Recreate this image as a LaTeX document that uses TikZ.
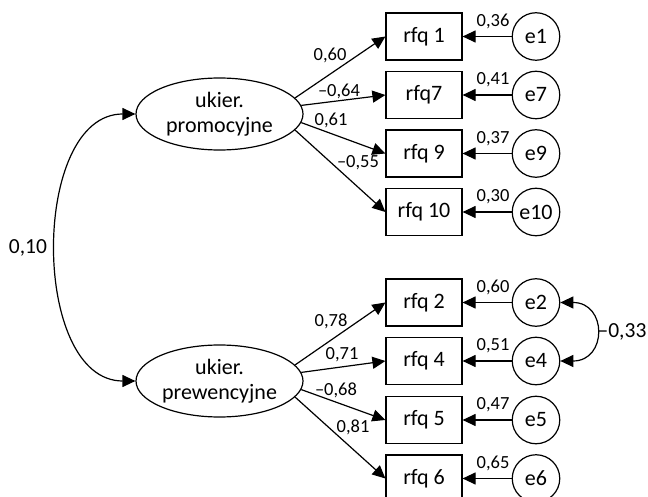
\documentclass[tikz,border=0pt]{standalone}
\usepackage{fontspec}
\setmainfont{Carlito}
\usetikzlibrary{arrows.meta,shapes.geometric}

\begin{document}
\begin{tikzpicture}[x=1pt,y=-1pt]
        \tikzset{latent/.style = {shape=ellipse,draw,line width=1.2pt,minimum width=167pt,minimum height=72pt,inner sep=0pt,align=center,font=\fontsize{22}{25}\selectfont}}
        \tikzset{item/.style = {shape=rectangle,draw,line width=1.2pt,minimum width=76pt,minimum height=47pt,font=\fontsize{22}{25}\selectfont}}
        \tikzset{err/.style = {shape=circle,draw,line width=1.2pt,minimum size=47.5pt,inner sep=0pt,font=\fontsize{22}{25}\selectfont}}
        \tikzset{edge/.style = {-{Triangle[length=13pt,width=12pt]},line width=1.2pt}}
        \tikzset{cov/.style = {{Triangle[length=13pt,width=12pt]}-{Triangle[length=13pt,width=12pt]},line width=1.2pt}}
        \tikzset{lab/.style = {inner sep=0pt,font=\fontsize{18.5}{20}\selectfont}}
        \tikzset{covlab/.style = {inner sep=0pt,font=\fontsize{21.5}{25}\selectfont}}

        \useasboundingbox (0,0) rectangle (648,497);

        % latent variables
        \node[latent] (pro) at (219.5,114) {ukier.\\promocyjne};
        \node[latent] (pre) at (219.5,381) {ukier.\\prewencyjne};

        % indicators and errors
        \foreach \n/\t/\y/\v in {1/{rfq 1}/36.5/{0,36}, 7/rfq7/95/{0,41}, 9/{rfq 9}/153.5/{0,37}, 10/{rfq 10}/212/{0,30},
                                 2/{rfq 2}/302.5/{0,60}, 4/{rfq 4}/361/{0,51}, 5/{rfq 5}/420/{0,47}, 6/{rfq 6}/478.5/{0,65}}
        {
            \node[item] (r\n) at (424,\y) {\t};
            \node[err] (e\n) at (536,\y) {e\n};
            \draw[edge] (e\n) -- (r\n);
            \node[lab] (v\n) at (493,\y-15) {\v};
        }

        % loadings
        \foreach \n/\a/\x/\y/\v in {1/12/330/55/{0,60}, 7/6/339/91/{–0,64}, 9/-6/331/120/{0,61}, 10/-12/358/163/{–0,55}}
        {
            \draw[edge] (pro.\a) -- (r\n.west);
            \node[lab] (l\n) at (\x,\y) {\v};
        }
        \foreach \n/\a/\x/\y/\v in {2/12/331/321/{0,78}, 4/6/342/355/{0,71}, 5/-6/336/390/{–0,68}, 6/-12/353/427/{0,81}}
        {
            \draw[edge] (pre.\a) -- (r\n.west);
            \node[lab] (l\n) at (\x,\y) {\v};
        }

        % covariances
        \draw[cov] (pro.west) .. controls +(-105,0) and +(-105,0) .. (pre.west);
        \node[covlab] (c1) at (28,248) {0,10};
        \draw[cov] (e2.east) .. controls +(47,0) and +(47,0) .. (e4.east);
        \node[covlab] (c2) at (622,332) {–0,33};

    \end{tikzpicture}
\end{document}
